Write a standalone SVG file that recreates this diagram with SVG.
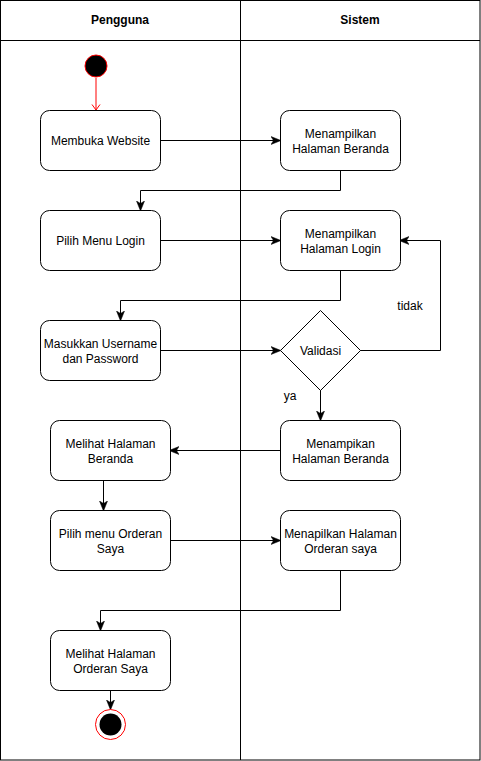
<svg xmlns="http://www.w3.org/2000/svg" width="481" height="761" viewBox="0 0 481 761">
<defs>
<style>
.box{fill:#fff;stroke:#000;stroke-width:1}
.t{font-family:"Liberation Sans",Arial,sans-serif;font-size:12px;fill:#000;text-anchor:middle}
.h{font-weight:bold}
.c{fill:none;stroke:#000;stroke-width:1}
</style>
<marker id="a" viewBox="0 0 10 10" refX="9" refY="5" markerWidth="10" markerHeight="10" markerUnits="userSpaceOnUse" orient="auto">
<path d="M0,1 L10,5 L0,9 L2.5,5 Z" fill="#000" stroke="#000" stroke-width="0.5"/>
</marker>
<marker id="ar" viewBox="0 0 10 10" refX="5" refY="9.5" markerWidth="10" markerHeight="10" markerUnits="userSpaceOnUse" orient="0">
<path d="M1,4 L5,9.5 L9,4" fill="none" stroke="#f00" stroke-width="1"/>
</marker>
</defs>
<rect x="0" y="0" width="481" height="761" fill="#fff"/>
<g id="lanes">
<rect x="0.5" y="0.5" width="479.5" height="759.5" fill="none" stroke="#000"/>
<line x1="0" y1="40.5" x2="480" y2="40.5" stroke="#000"/>
<line x1="240.5" y1="0" x2="240.5" y2="760" stroke="#000"/>
<text class="t h" x="120" y="24">Pengguna</text>
<text class="t h" x="360" y="24">Sistem</text>
</g>
<g id="connectors">
<line x1="96" y1="78" x2="96" y2="110" stroke="#f00" marker-end="url(#ar)"/>
<path class="c" d="M160,140.5 H280" marker-end="url(#a)"/>
<path class="c" d="M340.5,170 V190.5 H140.5 V210" marker-end="url(#a)"/>
<path class="c" d="M160,240.5 H280" marker-end="url(#a)"/>
<path class="c" d="M340.5,270 V300.5 H120.5 V320" marker-end="url(#a)"/>
<path class="c" d="M160,350.5 H280" marker-end="url(#a)"/>
<path class="c" d="M360,350.5 H440.5 V240.5 H400" marker-end="url(#a)"/>
<path class="c" d="M320.5,390 V420" marker-end="url(#a)"/>
<path class="c" d="M280,450.5 H170" marker-end="url(#a)"/>
<path class="c" d="M103.5,480 V510" marker-end="url(#a)"/>
<path class="c" d="M170,540.5 H280" marker-end="url(#a)"/>
<path class="c" d="M340.5,570 V610.5 H100.5 V630" marker-end="url(#a)"/>
<path class="c" d="M110.5,690 V709" marker-end="url(#a)"/>
<text class="t" x="410" y="310">tidak</text>
<text class="t" x="290" y="400">ya</text>
</g>
<g id="start"><circle cx="96" cy="66" r="11" fill="#000" stroke="#f00"/></g>
<g id="n1"><rect class="box" x="40.5" y="110.5" width="120" height="60" rx="9"/><text class="t" x="100.5" y="145">Membuka Website</text></g>
<g id="n2"><rect class="box" x="280.5" y="110.5" width="120" height="60" rx="9"/><text class="t" x="340.5" y="138">Menampilkan</text><text class="t" x="340.5" y="153">Halaman Beranda</text></g>
<g id="n3"><rect class="box" x="40.5" y="210.5" width="120" height="60" rx="9"/><text class="t" x="100.5" y="245">Pilih Menu Login</text></g>
<g id="n4"><rect class="box" x="280.5" y="210.5" width="120" height="60" rx="9"/><text class="t" x="340.5" y="238">Menampilkan</text><text class="t" x="340.5" y="253">Halaman Login</text></g>
<g id="n5"><rect class="box" x="40.5" y="320.5" width="120" height="60" rx="9"/><text class="t" x="100.5" y="348">Masukkan Username</text><text class="t" x="100.5" y="363">dan Password</text></g>
<g id="d1"><path class="box" d="M320.5,310.5 L360.5,350.5 L320.5,390.5 L280.5,350.5 Z"/><text class="t" x="320.5" y="355">Validasi</text></g>
<g id="n6"><rect class="box" x="280.5" y="420.5" width="120" height="60" rx="9"/><text class="t" x="340.5" y="448">Menampikan</text><text class="t" x="340.5" y="463">Halaman Beranda</text></g>
<g id="n7"><rect class="box" x="50.5" y="420.5" width="120" height="60" rx="9"/><text class="t" x="110.5" y="448">Melihat Halaman</text><text class="t" x="110.5" y="463">Beranda</text></g>
<g id="n8"><rect class="box" x="50.5" y="510.5" width="120" height="60" rx="9"/><text class="t" x="110.5" y="538">Pilih menu Orderan</text><text class="t" x="110.5" y="553">Saya</text></g>
<g id="n9"><rect class="box" x="280.5" y="510.5" width="120" height="60" rx="9"/><text class="t" x="340.5" y="538">Menapilkan Halaman</text><text class="t" x="340.5" y="553">Orderan saya</text></g>
<g id="n10"><rect class="box" x="50.5" y="630.5" width="120" height="60" rx="9"/><text class="t" x="110.5" y="658">Melihat Halaman</text><text class="t" x="110.5" y="673">Orderan Saya</text></g>
<g id="end"><circle cx="110.5" cy="724.5" r="15" fill="#fff" stroke="#f00"/><circle cx="110.5" cy="724.5" r="11" fill="#000"/></g>
</svg>
